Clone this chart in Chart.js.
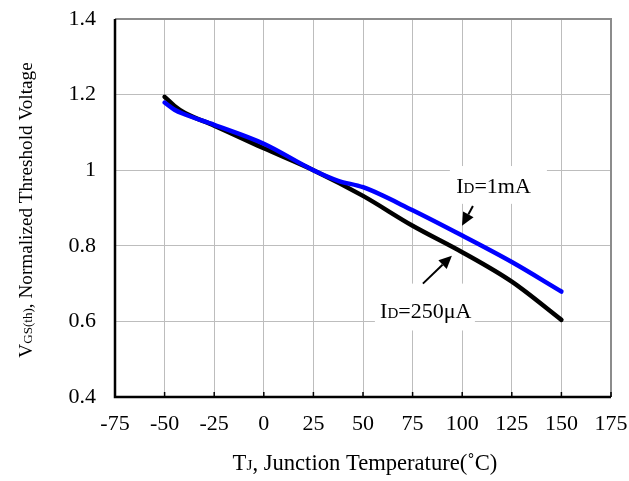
<!DOCTYPE html>
<html>
<head>
<meta charset="utf-8">
<script src="https://cdn.jsdelivr.net/npm/chart.js@4/dist/chart.umd.min.js"></script>
<style>
html,body{margin:0;padding:0;background:#fff;}
#wrap{width:629px;height:481px;position:relative;}
</style>
</head>
<body>
<div id="wrap"><canvas id="c" width="629" height="481"></canvas></div>
<script>
// ---- data ----
const xTicks = [-75, -50, -25, 0, 25, 50, 75, 100, 125, 150, 175];
const yTicks = [0.4, 0.6, 0.8, 1.0, 1.2, 1.4];
const yTickLabels = ['0.4', '0.6', '0.8', '1', '1.2', '1.4'];

const temp250uA = [-50, -45, -40, -25, 0, 25, 50, 75, 100, 125, 150];
const vth250uA  = [1.194, 1.170, 1.152, 1.118, 1.058, 1.000, 0.932, 0.853, 0.783, 0.705, 0.604];

const temp1mA = [-50, -45, -40, -25, 0, 25, 37.5, 50, 75, 100, 125, 150];
const vth1mA  = [1.179, 1.160, 1.148, 1.120, 1.070, 1.000, 0.972, 0.955, 0.894, 0.827, 0.757, 0.679];

const seriesNames = ['ID=1mA', 'ID=250μA'];

// annotation labels (data coordinates)
const labelText = [[['I',1],['D',0.68],['=1mA',1]], [['I',1],['D',0.68],['=250μA',1]]];
const labelAnchor = [[97, 0.939], [58.6, 0.608]];
const labelBox = [[93.8, 1.011, 142.7, 0.911], [56.0, 0.700, 106.4, 0.576]];
const arrowFrom = [[105.4, 0.905], [80.2, 0.700]];
const arrowTo = [[99.9, 0.853], [94.8, 0.774]];

const FONT = "'Liberation Serif', 'DejaVu Serif', serif";
const FS = 22;

function pts(xs, ys){ return xs.map((x,i)=>({x:x, y:ys[i]})); }

function drawParts(ctx, parts, x, y, fs){
  let cx = x;
  for (const [t, f] of parts){
    ctx.font = (fs*f).toFixed(1) + 'px ' + FONT;
    ctx.fillText(t, cx, y);
    cx += ctx.measureText(t).width;
  }
  return cx - x;
}
function measureParts(ctx, parts, fs){
  let w = 0;
  for (const [t, f] of parts){
    ctx.font = (fs*f).toFixed(1) + 'px ' + FONT;
    w += ctx.measureText(t).width;
  }
  return w;
}

const framePlugin = {
  id: 'frame',
  beforeDatasetsDraw(chart){
    const {ctx, chartArea:a, scales} = chart;
    const X = v => scales.x.getPixelForValue(v);
    const Y = v => scales.y.getPixelForValue(v);
    ctx.save();
    ctx.fillStyle = '#fff';
    for (const b of labelBox){
      ctx.fillRect(X(b[0]), Y(b[1]), X(b[2]) - X(b[0]), Y(b[3]) - Y(b[1]));
    }
    ctx.strokeStyle = '#8c8c8c';
    ctx.lineWidth = 2;
    ctx.beginPath();
    ctx.moveTo(a.left, a.top); ctx.lineTo(a.right, a.top); ctx.lineTo(a.right, a.bottom);
    ctx.stroke();
    ctx.strokeStyle = '#000';
    ctx.lineWidth = 1.5;
    for (const v of xTicks){
      const px = X(v);
      ctx.beginPath(); ctx.moveTo(px, a.bottom); ctx.lineTo(px, a.bottom - 5); ctx.stroke();
    }
    ctx.lineWidth = 2.5;
    ctx.beginPath();
    ctx.moveTo(a.left, a.top); ctx.lineTo(a.left, a.bottom); ctx.lineTo(a.right, a.bottom);
    ctx.stroke();
    ctx.restore();
  },
  afterDatasetsDraw(chart){
    const {ctx, scales} = chart;
    const X = v => scales.x.getPixelForValue(v);
    const Y = v => scales.y.getPixelForValue(v);
    ctx.save();
    for (let i = 0; i < labelText.length; i++){
      ctx.fillStyle = '#000';
      ctx.textBaseline = 'alphabetic';
      ctx.textAlign = 'left';
      drawParts(ctx, labelText[i], X(labelAnchor[i][0]), Y(labelAnchor[i][1]), FS);
      const x1 = X(arrowFrom[i][0]), y1 = Y(arrowFrom[i][1]);
      const x2 = X(arrowTo[i][0]), y2 = Y(arrowTo[i][1]);
      const ang = Math.atan2(y2 - y1, x2 - x1);
      const hl = 13, hw = 6;
      const bx = x2 - hl*Math.cos(ang), by = y2 - hl*Math.sin(ang);
      ctx.strokeStyle = '#000'; ctx.lineWidth = 2;
      ctx.beginPath(); ctx.moveTo(x1, y1); ctx.lineTo(bx, by); ctx.stroke();
      ctx.beginPath();
      ctx.moveTo(x2, y2);
      ctx.lineTo(bx + hw*Math.sin(ang), by - hw*Math.cos(ang));
      ctx.lineTo(bx - hw*Math.sin(ang), by + hw*Math.cos(ang));
      ctx.closePath(); ctx.fill();
    }
    ctx.restore();
  },
  afterDraw(chart){
    const {ctx, chartArea:a} = chart;
    ctx.save();
    ctx.fillStyle = '#000';
    ctx.textBaseline = 'alphabetic';
    const xParts = [['T',1],['J',0.68],[', Junction Temperature(˚C)',1]];
    const xfs = 22.6;
    const xw = measureParts(ctx, xParts, xfs);
    drawParts(ctx, xParts, (a.left + a.right)/2 - xw/2 + 2, 470, xfs);
    const yParts = [['V',1],['GS(th)',0.68],[', Normalized Threshold Voltage',1]];
    const yfs = 19.2;
    const yw = measureParts(ctx, yParts, yfs);
    ctx.translate(32, 210);
    ctx.rotate(-Math.PI/2);
    drawParts(ctx, yParts, -yw/2, 0, yfs);
    ctx.restore();
  }
};

new Chart(document.getElementById('c'), {
  type: 'line',
  data: {
    datasets: [
      { label: seriesNames[0], data: pts(temp1mA, vth1mA), borderColor: '#0000ff', borderWidth: 4.5,
        pointRadius: 0, cubicInterpolationMode: 'monotone', borderCapStyle: 'round', borderJoinStyle: 'round', order: 0, fill: false },
      { label: seriesNames[1], data: pts(temp250uA, vth250uA), borderColor: '#000000', borderWidth: 4.5,
        pointRadius: 0, cubicInterpolationMode: 'monotone', borderCapStyle: 'round', borderJoinStyle: 'round', order: 1, fill: false }
    ]
  },
  options: {
    responsive: false,
    animation: false,
    devicePixelRatio: 1,
    layout: { padding: { top: 19, right: 18, left: 0, bottom: 0 } },
    plugins: { legend: { display: false }, tooltip: { enabled: false }, title: { display: false } },
    scales: {
      x: {
        type: 'linear', min: -75, max: 175,
        afterBuildTicks: s => { s.ticks = xTicks.map(v => ({value: v})); },
        afterFit: s => { s.height = 84; s.paddingLeft = 0; s.paddingRight = 0; },
        grid: { color: '#bdbdbd', lineWidth: 1, drawTicks: false },
        border: { display: false },
        ticks: { color: '#000', font: { family: FONT, size: FS }, padding: 14, maxRotation: 0, autoSkip: false,
                 callback: v => String(v) }
      },
      y: {
        type: 'linear', min: 0.4, max: 1.4,
        afterBuildTicks: s => { s.ticks = yTicks.map(v => ({value: v})); },
        afterFit: s => { s.width = 115; s.paddingTop = 0; s.paddingBottom = 0; },
        grid: { color: '#bdbdbd', lineWidth: 1, drawTicks: false },
        border: { display: false },
        ticks: { color: '#000', font: { family: FONT, size: FS }, padding: 19, autoSkip: false,
                 callback: (v) => { const i = yTicks.findIndex(t => Math.abs(t - v) < 1e-9); return i >= 0 ? yTickLabels[i] : ''; } }
      }
    }
  },
  plugins: [framePlugin]
});
</script>
</body>
</html>
